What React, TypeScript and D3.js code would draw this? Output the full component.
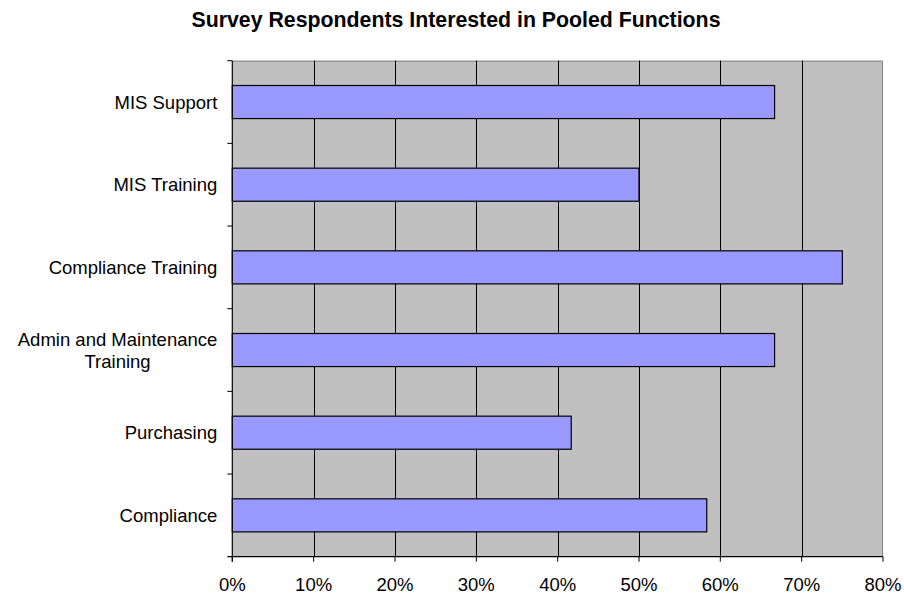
import React from "react";
import * as d3 from "d3";

// Share of respondents (%) interested in each pooled function
const categories = [
  "MIS Support",
  "MIS Training",
  "Compliance Training",
  "Admin and Maintenance\nTraining",
  "Purchasing",
  "Compliance",
];
const values = [66.67, 50, 75, 66.67, 41.67, 58.33];
const xTicks = [0, 10, 20, 30, 40, 50, 60, 70, 80];
const title = "Survey Respondents Interested in Pooled Functions";

const W = 904;
const H = 595;
const margin = { top: 60.7, right: 21, bottom: 38.3, left: 232.3 };
const FONT = "Arial, 'Liberation Sans', Helvetica, sans-serif";
const LABEL_SIZE = 18.5;

function textWidth(s: string, font: string): number {
  const c = document.createElement("canvas").getContext("2d");
  if (!c) return s.length * 9;
  c.font = font;
  return c.measureText(s).width;
}

export default function App() {
  const x = d3
    .scaleLinear()
    .domain([0, 80])
    .range([margin.left, W - margin.right]);
  const y = d3
    .scaleBand<string>()
    .domain(categories)
    .range([margin.top, H - margin.bottom])
    .paddingInner(0)
    .paddingOuter(0);
  const bw = y.bandwidth();
  const barH = bw / 2.5;
  const [x0, x1] = x.range();
  const [y0, y1] = y.range();
  const labelRight = x0 - 15;
  const labelFont = `${LABEL_SIZE}px ${FONT}`;

  return (
    <svg
      width={W}
      height={H}
      style={{ position: "fixed", left: 0, top: 0, background: "#fff" }}
      fontFamily={FONT}
    >
      <text
        x={456}
        y={26.5}
        textAnchor="middle"
        fontSize={21.3}
        fontWeight="bold"
        fill="#000"
      >
        {title}
      </text>

      {/* plot background */}
      <rect x={x0} y={y0} width={x1 - x0} height={y1 - y0} fill="#c0c0c0" />
      <path
        d={`M${x0},${y0 + 0.5}H${x1 - 0.5}V${y1}`}
        fill="none"
        stroke="#808080"
        strokeWidth={1}
      />

      {/* vertical gridlines */}
      {xTicks.slice(1, -1).map((t) => (
        <line
          key={t}
          x1={Math.round(x(t)) + 0.5}
          x2={Math.round(x(t)) + 0.5}
          y1={y0}
          y2={y1}
          stroke="#000"
          strokeWidth={1}
        />
      ))}

      {/* bars */}
      {categories.map((c, i) => {
        const cy = (y(c) as number) + bw / 2;
        return (
          <rect
            key={c}
            x={x(0)}
            y={cy - barH / 2}
            width={x(values[i]) - x(0)}
            height={barH}
            fill="#9999ff"
            stroke="#000"
            strokeWidth={1.2}
          />
        );
      })}

      {/* axes */}
      <line x1={x0} x2={x0} y1={y0} y2={y1 + 5} stroke="#000" strokeWidth={1.2} />
      <line x1={x0 - 5} x2={x1} y1={y1} y2={y1} stroke="#000" strokeWidth={1.2} />

      {/* y ticks at band boundaries */}
      {categories.map((c) => (
        <line
          key={c}
          x1={x0 - 5}
          x2={x0}
          y1={y(c) as number}
          y2={y(c) as number}
          stroke="#000"
          strokeWidth={1}
        />
      ))}

      {/* x ticks and labels */}
      {xTicks.map((t) => (
        <g key={t}>
          <line x1={x(t)} x2={x(t)} y1={y1} y2={y1 + 5} stroke="#000" strokeWidth={1} />
          <text
            x={x(t)}
            y={590.5}
            textAnchor="middle"
            fontSize={LABEL_SIZE}
            fill="#000"
          >
            {`${t}%`}
          </text>
        </g>
      ))}

      {/* category labels */}
      {categories.map((c) => {
        const lines = c.split("\n");
        const cy = (y(c) as number) + bw / 2;
        const lh = 22;
        const widest = Math.max(...lines.map((l) => textWidth(l, labelFont)));
        const multi = lines.length > 1;
        return (
          <text
            key={c}
            x={multi ? labelRight - widest / 2 : labelRight}
            textAnchor={multi ? "middle" : "end"}
            fontSize={LABEL_SIZE}
            fill="#000"
          >
            {lines.map((l, k) => (
              <tspan
                key={k}
                x={multi ? labelRight - widest / 2 : labelRight}
                y={cy + 6.5 + (k - (lines.length - 1) / 2) * lh}
              >
                {l}
              </tspan>
            ))}
          </text>
        );
      })}
    </svg>
  );
}
